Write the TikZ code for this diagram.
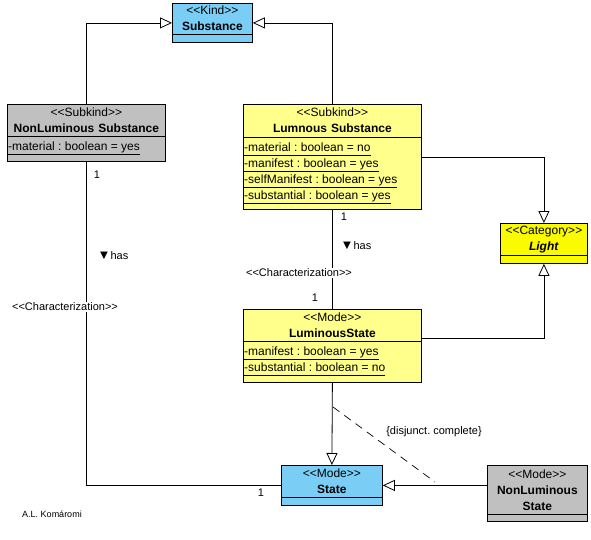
\documentclass[tikz,border=0pt]{standalone}
\usepackage{fontspec}
\setmainfont{Liberation Sans}
\usepackage{tikz}
\usetikzlibrary{arrows.meta}
\definecolor{kindblue}{RGB}{122,206,245}
\definecolor{paleyellow}{RGB}{255,255,140}
\definecolor{lightyellow}{RGB}{250,250,0}
\definecolor{greybox}{RGB}{192,192,192}
\newcommand{\stereo}[1]{<{}<#1>{}>}
\newcommand{\attrib}[1]{\underline{#1\vphantom{y}}}
\newcommand{\hasdir}{{\fontsize{13}{13}\selectfont ▼}has}
\frenchspacing
\tikzstyle{classbox} = [rectangle, draw=black, line width=0.8pt, inner sep=0pt, anchor=north west]
\tikzstyle{head} = [anchor=north, inner sep=0pt, align=center, font=\fontsize{12}{16}\selectfont]
\tikzstyle{attr} = [anchor=north west, inner sep=0pt, align=left, font=\fontsize{12}{16}\selectfont]
\tikzstyle{lbl} = [inner sep=1pt, font=\fontsize{11}{13}\selectfont]
\tikzstyle{line} = [line width=0.8pt]
\tikzstyle{arrow} = [line width=0.8pt, -{Triangle[open, length=12pt, width=11pt]}]
\tikzstyle{gsline} = [line width=0.7pt, dash pattern=on 8pt off 6pt]

\begin{document}
\begin{tikzpicture}[x=1pt, y=-1pt]
\useasboundingbox (0,0) rectangle (591,539);

% classes
\node (n1) [classbox, fill=kindblue, minimum width=80pt, minimum height=39pt] at (172,3) {};
\node (n1t) [head, text width=80pt, minimum height=31pt] at (n1.north) {\stereo{Kind}\\\textbf{Substance}};
\draw [line] (n1.west |- n1t.south) -- (n1.east |- n1t.south);

\node (n2) [classbox, fill=greybox, minimum width=158pt, minimum height=57pt] at (7,104) {};
\node (n2t) [head, text width=158pt, minimum height=32pt] at (n2.north) {\stereo{Subkind}\\\textbf{NonLuminous Substance}};
\draw [line] (n2.west |- n2t.south) -- (n2.east |- n2t.south);
\node (n2a) [attr] at ([shift={(1,5)}]n2.west |- n2t.south) {\attrib{-material : boolean = yes}};

\node (n3) [classbox, fill=paleyellow, minimum width=178pt, minimum height=105pt] at (243,104) {};
\node (n3t) [head, text width=178pt, minimum height=33pt] at (n3.north) {\stereo{Subkind}\\\textbf{Lumnous Substance}};
\draw [line] (n3.west |- n3t.south) -- (n3.east |- n3t.south);
\node (n3a) [attr] at ([shift={(1,5)}]n3.west |- n3t.south) {\attrib{-material : boolean = no}\\\attrib{-manifest : boolean = yes}\\\attrib{-selfManifest : boolean = yes}\\\attrib{-substantial : boolean = yes}};

\node (n4) [classbox, fill=lightyellow, minimum width=87pt, minimum height=40pt] at (500,223) {};
\node (n4t) [head, text width=87pt, minimum height=32pt] at (n4.north) {\stereo{Category}\\\textbf{\textit{Light}}};
\draw [line] (n4.west |- n4t.south) -- (n4.east |- n4t.south);

\node (n5) [classbox, fill=paleyellow, minimum width=178pt, minimum height=73pt] at (243,309) {};
\node (n5t) [head, text width=178pt, minimum height=32pt] at (n5.north) {\stereo{Mode}\\\textbf{LuminousState}};
\draw [line] (n5.west |- n5t.south) -- (n5.east |- n5t.south);
\node (n5a) [attr] at ([shift={(1,5)}]n5.west |- n5t.south) {\attrib{-manifest : boolean = yes}\\\attrib{-substantial : boolean = no}};

\node (n6) [classbox, fill=kindblue, minimum width=101pt, minimum height=40pt] at (281,465) {};
\node (n6t) [head, text width=101pt, minimum height=32pt] at (n6.north) {\stereo{Mode}\\\textbf{State}};
\draw [line] (n6.west |- n6t.south) -- (n6.east |- n6t.south);

\node (n7) [classbox, fill=greybox, minimum width=100pt, minimum height=56pt] at (487,465) {};
\node (n7t) [head, text width=100pt, minimum height=49pt] at (n7.north) {\stereo{Mode}\\\textbf{NonLuminous}\\\textbf{State}};
\draw [line] (n7.west |- n7t.south) -- (n7.east |- n7t.south);

% connectors
\draw [arrow] (n2.north) |- (n1.west);
\draw [arrow] (n3.north) |- (n1.east);
\draw [arrow] (n3.east) -| (n4.north);
\draw [arrow] ([yshift=8pt]n5.east) -| (n4.south);
\draw [arrow] (n5.south) -- (n6.north);
\draw [arrow] (n7.west |- n6.east) -- (n6.east);
\draw [line] (n2.south) |- (n6.west);
\draw [line] (n3.south) -- (n5.north);
\coordinate (g1) at (333,407);
\coordinate (g2) at (435,482);
\draw [gsline] (g1) -- (g2);

% labels
\node (c1) [lbl] at (97,175) {1};
\node (h1) [lbl] at (113,256) {\hasdir};
\node (s1) [lbl, fill=white] at (65,307) {\stereo{Characterization}};
\node (c2) [lbl] at (261,493) {1};
\node (c3) [lbl] at (344,217) {1};
\node (h2) [lbl] at (356,246) {\hasdir};
\node (s2) [lbl, fill=white] at (299,273) {\stereo{Characterization}};
\node (c4) [lbl] at (315,298) {1};
\node (gs) [lbl] at (434,432) {\{disjunct. complete\}};
\node (au) [lbl, font=\fontsize{9}{11}\selectfont] at (52,514) {A.L. Komáromi};

\end{tikzpicture}
\end{document}
